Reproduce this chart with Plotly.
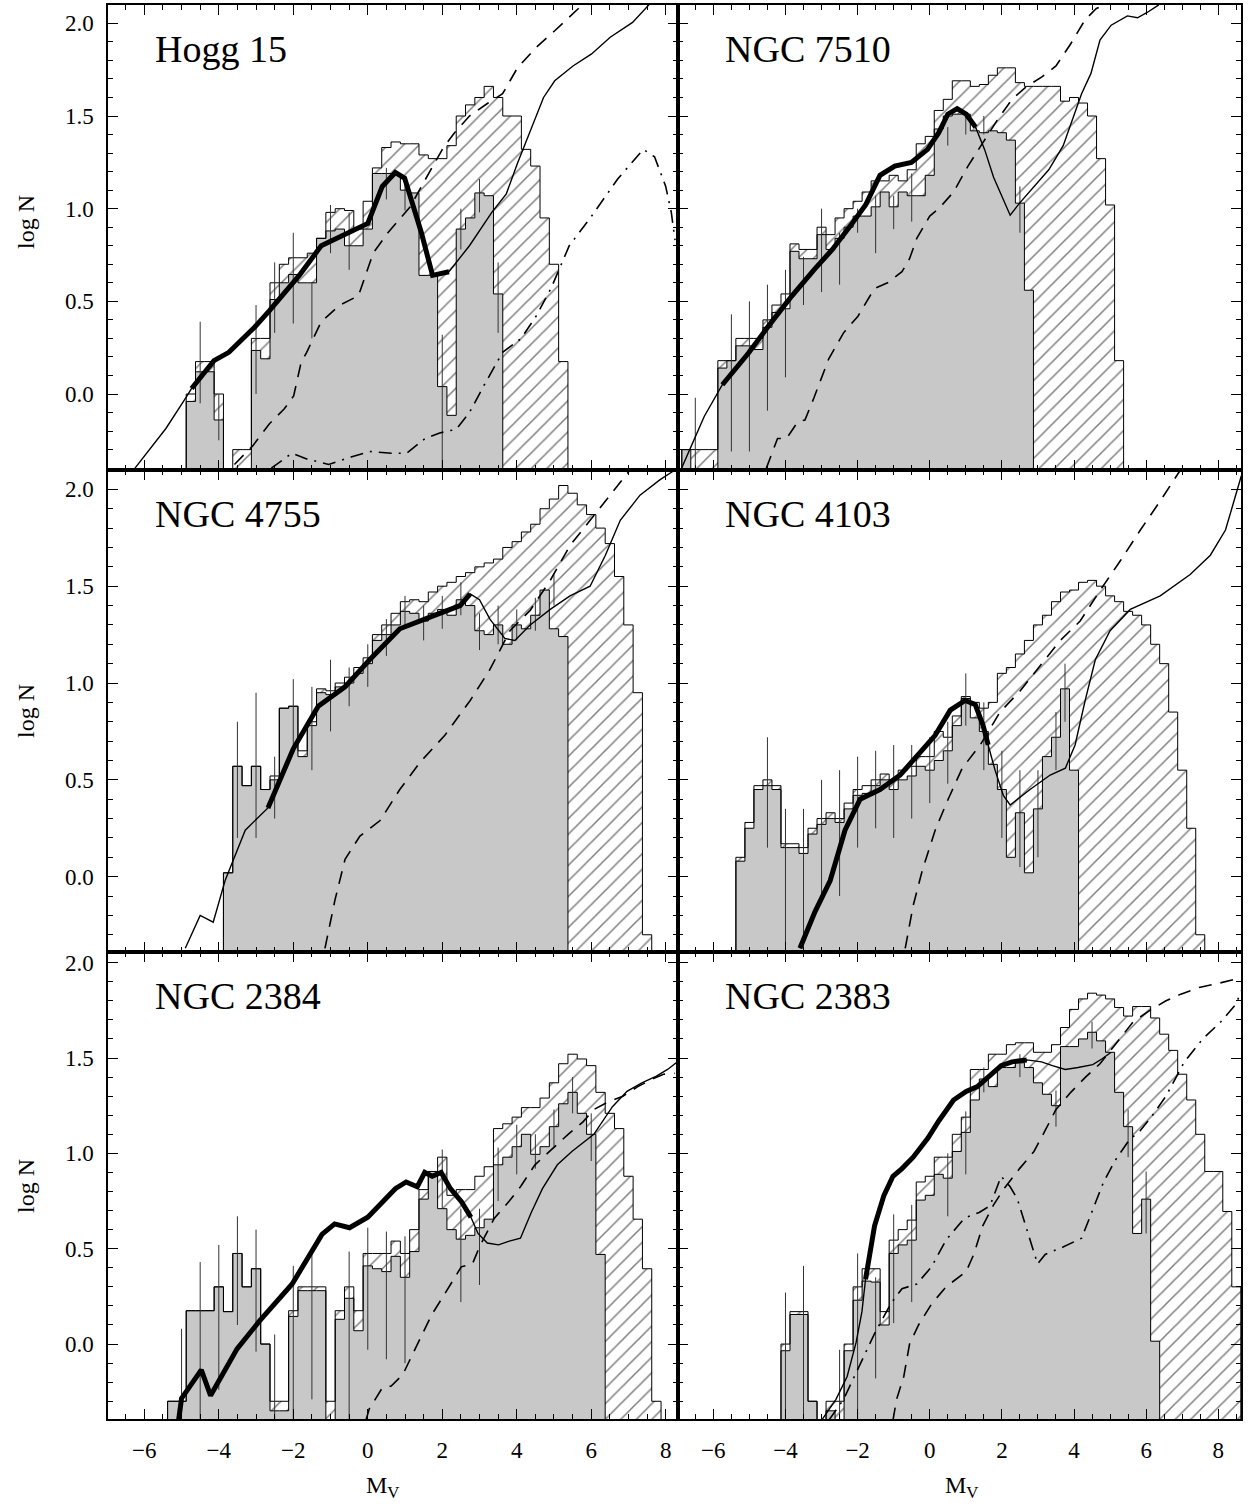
import plotly.graph_objects as go

BIN = 0.25          # histogram bin width in M_V
FLOOR = -1.0        # value used for empty bins (below the plotted range)

# ---------------- Hogg 15 ----------------
H15_TOT_START = -4.75
H15_TOT = [0.0, 0.175, 0.175, 0.0, -1, -0.3, -0.3, 0.30, 0.30, 0.60, 0.70, 0.735, 0.735, 0.76,
           0.84, 0.98, 1.0, 0.99, 0.89, 1.04, 1.22, 1.33, 1.36, 1.35, 1.35, 1.29, 1.27, 1.27, 1.34,
           1.50, 1.56, 1.60, 1.66, 1.60, 1.50, 1.50, 1.32, 1.23, 0.95, 0.70, 0.175]
H15_GRAY_START = -4.75
H15_GRAY = [-0.04, 0.12, 0.12, -0.14, -1, -1, -1, 0.235, 0.19, 0.51, 0.60, 0.645, 0.60, 0.60,
            0.84, 0.88, 0.89, 0.80, 0.80, 0.89, 1.19, 1.19, 1.19, 1.10, 1.085, 0.64, 0.64, 0.04,
            -0.115, 0.89, 0.95, 1.085, 1.07, 0.54]
H15_ERR_X = [-4.5, -4.0, -3.0, -2.5, -2.0, -1.5, -1.0, -0.5, 0.5, 1.0, 2.0, 2.5, 3.0, 3.5]
H15_ERR_HI = [0.39, 0.0, 0.48, 0.71, 0.87, 0.60, 1.02, 0.98, 1.22, 1.14, 0.32, 1.0, 1.16, 0.71]
H15_ERR_LO = [-0.05, -0.25, 0.0, 0.33, 0.38, 0.30, 0.76, 0.67, 1.05, 0.99, -0.45, 0.78, 0.98, 0.33]
H15_MODEL_X = [-6.25, -5.42, -4.87, -4.73, -4.48, -4.13, -3.73, -3.04, -2.64, -1.84, -1.25, -0.70,
               0.0, 0.39, 0.74, 0.99, 1.44, 1.74, 2.18, 2.73, 3.33, 3.72, 4.02, 4.27, 4.52, 4.72,
               5.02, 5.51, 6.01, 6.51, 7.11, 7.55]
H15_MODEL_Y = [-0.40, -0.186, -0.016, 0.03, 0.09, 0.18, 0.225, 0.36, 0.45, 0.64, 0.80, 0.85,
               0.92, 1.12, 1.195, 1.165, 0.87, 0.64, 0.66, 0.80, 0.98, 1.08, 1.245, 1.37, 1.50,
               1.60, 1.69, 1.77, 1.835, 1.925, 2.005, 2.10]
H15_THICK = [-4.75, 2.2]
H15_DASH_X = [-3.58, -3.43, -3.09, -2.64, -2.24, -1.99, -1.79, -1.64, -1.25, -0.75, -0.25, 0.145,
              0.54, 0.84, 1.14, 1.44, 1.74, 2.03, 2.33, 2.73, 3.23, 3.62, 4.02, 4.52, 5.02, 5.71]
H15_DASH_Y = [-0.38, -0.35, -0.28, -0.16, -0.08, -0.01, 0.17, 0.225, 0.39, 0.48, 0.53, 0.76,
              0.87, 0.94, 1.01, 1.12, 1.23, 1.33, 1.41, 1.50, 1.57, 1.62, 1.76, 1.87, 1.96, 2.09]
H15_DOT_X = [-2.59, -2.04, -1.64, -1.05, -0.45, 0.05, 0.64, 1.04, 1.54, 1.93, 2.38, 2.73, 3.13,
             3.62, 4.12, 4.52, 4.92, 5.17, 5.41, 6.01, 6.71, 7.40, 7.70, 8.0, 8.15, 8.25]
H15_DOT_Y = [-0.40, -0.32, -0.35, -0.38, -0.34, -0.31, -0.32, -0.32, -0.24, -0.21, -0.19, -0.10,
             0.05, 0.225, 0.30, 0.42, 0.57, 0.69, 0.80, 0.96, 1.16, 1.32, 1.28, 1.12, 0.98, 0.83]

# ---------------- NGC 7510 ----------------
N7510_TOT_START = -6.75
N7510_TOT = [-0.30, -0.30, -0.30, -0.30, 0.18, 0.18, 0.30, 0.30, 0.30, 0.40, 0.48, 0.54, 0.81,
             0.78, 0.78, 0.90, 0.86, 0.95, 1.00, 1.04, 1.09, 1.15, 1.15, 1.18, 1.15, 1.21, 1.35,
             1.39, 1.53, 1.59, 1.69, 1.69, 1.66, 1.67, 1.72, 1.76, 1.76, 1.68, 1.66, 1.66, 1.66,
             1.66, 1.58, 1.60, 1.57, 1.50, 1.27, 1.02, 0.18]
N7510_GRAY_START = -6.75
N7510_GRAY = [-0.30, -1, -1, -1, 0.14, 0.18, 0.26, 0.26, 0.24, 0.36, 0.44, 0.46, 0.77, 0.73,
              0.73, 0.86, 0.78, 0.84, 0.90, 0.96, 0.96, 1.01, 1.09, 1.01, 1.09, 1.07, 1.07, 1.18,
              1.43, 1.50, 1.51, 1.51, 1.42, 1.41, 1.42, 1.41, 1.37, 1.03, 0.56]
N7510_ERR_X = [-6.5, -5.5, -5.0, -4.5, -4.0, -3.5, -3.0, -2.5, -2.0, -1.5, -1.0, -0.5, 0.5, 1.0, 1.5, 2.5]
N7510_ERR_HI = [-0.02, 0.43, 0.50, 0.59, 0.67, 0.74, 1.0, 0.87, 1.0, 1.07, 1.07, 1.19, 1.44, 1.52, 1.50, 1.12]
N7510_ERR_LO = [-0.45, -0.31, -0.31, -0.09, 0.09, 0.48, 0.55, 0.59, 0.87, 0.76, 0.89, 0.93, 1.34, 1.40, 1.40, 0.87]
N7510_MODEL_X = [-6.88, -6.25, -5.75, -5.03, -4.42, -3.82, -3.21, -2.70, -2.19, -1.78, -1.38,
                 -0.97, -0.51, -0.06, 0.25, 0.50, 0.76, 1.01, 1.27, 1.52, 1.77, 2.03, 2.23, 2.49,
                 2.89, 3.30, 3.70, 3.96, 4.21, 4.47, 4.72, 5.03, 5.48, 5.76, 6.04, 6.35]
N7510_MODEL_Y = [-0.40, -0.12, 0.05, 0.22, 0.38, 0.53, 0.67, 0.78, 0.91, 1.02, 1.18, 1.23, 1.25,
                 1.32, 1.41, 1.51, 1.54, 1.51, 1.44, 1.32, 1.17, 1.05, 0.965, 1.03, 1.12, 1.21,
                 1.34, 1.48, 1.62, 1.73, 1.91, 1.99, 2.04, 2.03, 2.06, 2.10]
N7510_THICK = [-5.8, 1.3]
N7510_DASH_X = [-4.53, -4.37, -4.22, -3.97, -3.66, -3.46, -3.21, -2.80, -2.39, -1.99, -1.53, -1.17,
                -0.77, -0.56, -0.36, 0.0, 0.25, 0.66, 1.06, 1.47, 1.88, 2.28, 2.69, 3.10, 3.50,
                3.91, 4.31, 4.62, 5.07]
N7510_DASH_Y = [-0.40, -0.32, -0.24, -0.24, -0.15, -0.14, -0.02, 0.19, 0.33, 0.42, 0.57, 0.60,
                0.66, 0.73, 0.84, 0.96, 1.0, 1.09, 1.23, 1.355, 1.48, 1.59, 1.66, 1.71, 1.77,
                1.89, 2.02, 2.08, 2.12]

# ---------------- NGC 4755 ----------------
N4755_TOT_START = -3.75
N4755_TOT = [0.02, 0.57, 0.47, 0.57, 0.45, 0.52, 0.87, 0.88, 0.65, 0.80, 0.97, 0.96, 1.0, 1.03,
             1.08, 1.13, 1.25, 1.30, 1.36, 1.42, 1.43, 1.42, 1.47, 1.50, 1.52, 1.55, 1.57, 1.60,
             1.62, 1.64, 1.70, 1.73, 1.78, 1.82, 1.90, 1.95, 2.02, 1.98, 1.92, 1.87, 1.80, 1.72,
             1.55, 1.30, 0.95, -0.30]
N4755_GRAY_START = -3.75
N4755_GRAY = [0.02, 0.57, 0.47, 0.57, 0.45, 0.50, 0.87, 0.88, 0.62, 0.78, 0.95, 0.94, 0.98, 1.0,
              1.05, 1.10, 1.22, 1.25, 1.30, 1.37, 1.36, 1.32, 1.36, 1.38, 1.35, 1.43, 1.40, 1.27,
              1.25, 1.30, 1.20, 1.30, 1.28, 1.35, 1.48, 1.28, 1.24]
N4755_ERR_X = [-3.5, -3.0, -2.5, -2.0, -1.5, -1.0, -0.5, 0.0, 0.5, 1.0, 1.5, 2.0, 2.5, 3.0, 3.5, 4.0, 4.5, 5.0]
N4755_ERR_HI = [0.80, 0.95, 0.62, 1.02, 0.98, 1.12, 1.08, 1.20, 1.33, 1.45, 1.40, 1.45, 1.52, 1.36, 1.40, 1.38, 1.44, 1.56]
N4755_ERR_LO = [0.20, 0.20, 0.30, 0.65, 0.55, 0.75, 0.88, 0.98, 1.14, 1.28, 1.22, 1.28, 1.35, 1.17, 1.20, 1.22, 1.27, 1.40]
N4755_MODEL_X = [-4.9, -4.5, -4.15, -3.83, -3.29, -2.68, -2.0, -1.33, -0.61, 0.05, 0.86, 1.67,
                 2.48, 2.75, 3.0, 3.28, 3.68, 3.95, 4.36, 4.9, 5.43, 5.97, 6.38, 6.78, 7.31,
                 7.85, 8.25]
N4755_MODEL_Y = [-0.37, -0.2, -0.235, -0.02, 0.24, 0.355, 0.66, 0.88, 0.98, 1.12, 1.28, 1.34,
                 1.40, 1.46, 1.43, 1.33, 1.23, 1.22, 1.30, 1.38, 1.45, 1.50, 1.66, 1.84, 1.97,
                 2.05, 2.10]
N4755_THICK = [-2.7, 2.8]
N4755_DASH_X = [-1.15, -0.88, -0.61, -0.21, 0.33, 0.86, 1.4, 2.07, 2.75, 3.28, 3.82, 4.36, 4.9,
                5.43, 5.97, 6.51, 7.04]
N4755_DASH_Y = [-0.37, -0.12, 0.09, 0.21, 0.29, 0.45, 0.59, 0.73, 0.91, 1.07, 1.27, 1.375, 1.53,
                1.71, 1.84, 1.97, 2.10]

# ---------------- NGC 4103 ----------------
N4103_TOT_START = -5.25
N4103_TOT = [0.10, 0.28, 0.47, 0.50, 0.47, 0.17, 0.17, 0.15, 0.25, 0.30, 0.33, 0.30, 0.38, 0.45,
             0.47, 0.50, 0.53, 0.50, 0.55, 0.57, 0.62, 0.62, 0.75, 0.72, 0.83, 0.93, 0.90, 0.87,
             0.90, 1.05, 1.08, 1.15, 1.22, 1.30, 1.35, 1.42, 1.47, 1.48, 1.52, 1.53, 1.50, 1.45,
             1.42, 1.37, 1.35, 1.30, 1.20, 1.10, 0.85, 0.55, 0.25, -0.30]
N4103_GRAY_START = -5.25
N4103_GRAY = [0.08, 0.25, 0.45, 0.47, 0.45, 0.15, 0.15, 0.12, 0.22, 0.27, 0.30, 0.28, 0.35, 0.42,
              0.43, 0.47, 0.50, 0.45, 0.50, 0.52, 0.57, 0.55, 0.60, 0.65, 0.78, 0.92, 0.82, 0.75,
              0.58, 0.45, 0.10, 0.33, 0.02, 0.35, 0.62, 0.72, 0.97, 0.55]
N4103_ERR_X = [-4.5, -4.0, -3.5, -3.0, -2.5, -2.0, -1.5, -1.0, -0.5, 0.0, 0.5, 1.0, 1.5, 2.0, 2.5, 3.0, 3.5, 3.75]
N4103_ERR_HI = [0.72, 0.35, 0.35, 0.50, 0.55, 0.62, 0.65, 0.68, 0.68, 0.72, 0.80, 1.05, 0.90, 0.65, 0.55, 0.55, 0.85, 1.10]
N4103_ERR_LO = [0.15, -0.45, -0.45, -0.10, -0.10, 0.15, 0.25, 0.20, 0.30, 0.38, 0.48, 0.78, 0.55, 0.20, 0.05, 0.10, 0.55, 0.80]
N4103_MODEL_X = [-3.6, -3.18, -2.76, -2.35, -1.93, -1.38, -0.82, -0.27, 0.15, 0.57, 0.98, 1.26,
                 1.48, 1.62, 1.81, 2.04, 2.23, 2.78, 3.34, 3.76, 4.03, 4.31, 4.59, 5.0, 5.56,
                 6.39, 7.22, 7.78, 8.2, 8.64]
N4103_MODEL_Y = [-0.37, -0.18, -0.02, 0.24, 0.40, 0.45, 0.525, 0.64, 0.73, 0.86, 0.91, 0.89,
                 0.78, 0.68, 0.55, 0.42, 0.37, 0.45, 0.525, 0.56, 0.68, 0.91, 1.12, 1.27, 1.38,
                 1.45, 1.56, 1.66, 1.79, 2.07]
N4103_THICK = [-3.6, 1.65]
N4103_DASH_X = [-0.68, -0.46, -0.21, 0.15, 0.51, 0.9, 1.4, 1.95, 2.51, 3.06, 3.62, 4.17, 4.73,
                5.28, 5.84, 6.39, 6.95]
N4103_DASH_Y = [-0.37, -0.15, 0.03, 0.24, 0.40, 0.56, 0.68, 0.85, 0.96, 1.09, 1.22, 1.32, 1.48,
                1.63, 1.79, 1.94, 2.10]

# ---------------- NGC 2384 ----------------
N2384_TOT_START = -5.25
N2384_TOT = [-0.30, -0.30, 0.175, 0.175, 0.175, 0.30, 0.17, 0.475, 0.30, 0.395, 0.0, -0.30,
             -0.30, 0.175, 0.30, 0.30, 0.30, -0.30, 0.175, 0.30, 0.175, 0.475, 0.475, 0.475,
             0.54, 0.475, 0.60, 0.81, 0.905, 0.98, 0.78, 0.81, 0.81, 0.88, 0.93, 1.13, 1.155,
             1.19, 1.24, 1.24, 1.29, 1.37, 1.47, 1.52, 1.495, 1.46, 1.32, 1.21, 1.13, 0.88,
             0.655, 0.395, -0.30]
N2384_GRAY_START = -5.25
N2384_GRAY = [-0.30, -0.30, 0.175, 0.175, 0.175, 0.30, 0.17, 0.475, 0.30, 0.395, 0.0, -0.35,
              -0.35, 0.145, 0.28, 0.28, 0.28, -1, 0.13, 0.24, 0.07, 0.41, 0.395, 0.38, 0.46,
              0.35, 0.485, 0.76, 0.905, 0.71, 0.60, 0.55, 0.57, 0.61, 0.655, 0.94, 0.98, 1.035,
              1.10, 0.995, 1.035, 1.14, 1.26, 1.32, 1.21, 1.10, 0.47]
N2384_ERR_X = [-5.0, -4.5, -4.0, -3.5, -3.0, -2.5, -2.0, -1.5, -0.5, 0.0, 0.5, 1.0, 2.0, 2.5,
               3.0, 3.5, 4.0, 4.5, 5.0, 5.5, 6.0]
N2384_ERR_HI = [0.08, 0.43, 0.52, 0.67, 0.60, 0.05, 0.41, 0.475, 0.485, 0.61, 0.59, 0.565, 1.02,
                0.71, 0.71, 1.03, 1.15, 1.10, 1.23, 1.40, 1.21]
N2384_ERR_LO = [-0.45, -0.45, -0.24, 0.10, -0.04, -0.45, -0.45, -0.29, -0.45, -0.03, -0.08,
                -0.10, 0.71, 0.22, 0.31, 0.75, 0.89, 0.92, 1.03, 1.21, 0.96]
N2384_MODEL_X = [-5.08, -5.0, -4.47, -4.22, -3.51, -2.91, -2.03, -1.53, -1.23, -0.89, -0.49, 0.0,
                 0.35, 0.74, 1.03, 1.33, 1.53, 1.73, 1.97, 2.22, 2.52, 2.77, 2.96, 3.21, 3.51,
                 3.80, 4.10, 4.39, 4.69, 5.09, 5.48, 6.07, 6.57, 6.96, 7.36, 7.75, 8.05, 8.35]
N2384_MODEL_Y = [-0.40, -0.285, -0.135, -0.27, -0.025, 0.12, 0.315, 0.475, 0.575, 0.63, 0.61,
                 0.665, 0.735, 0.815, 0.85, 0.825, 0.90, 0.88, 0.90, 0.815, 0.745, 0.665, 0.58,
                 0.53, 0.52, 0.54, 0.555, 0.69, 0.815, 0.94, 1.01, 1.10, 1.245, 1.325, 1.37,
                 1.405, 1.44, 1.485]
N2384_THICK = [-5.1, 2.8]
N2384_DASH_X = [-0.05, 0.04, 0.39, 0.63, 0.94, 1.33, 1.72, 2.12, 2.51, 2.81, 3.0, 3.4, 3.80, 4.10,
                4.49, 4.88, 5.38, 5.78, 6.07, 6.46, 6.85, 7.25, 7.64, 7.94, 8.24]
N2384_DASH_Y = [-0.40, -0.34, -0.23, -0.22, -0.16, -0.005, 0.155, 0.28, 0.405, 0.42, 0.51, 0.66,
                0.75, 0.825, 0.94, 1.01, 1.10, 1.165, 1.23, 1.27, 1.30, 1.35, 1.39, 1.415, 1.42]

# ---------------- NGC 2383 ----------------
N2383_TOT_START = -4.0
N2383_TOT = [0.0, 0.17, 0.17, -0.30, -1, -0.30, -0.30, 0.0, 0.30, 0.395, 0.395, 0.17, 0.545,
             0.60, 0.65, 0.85, 0.88, 0.98, 0.98, 1.10, 1.19, 1.44, 1.44, 1.52, 1.52, 1.57, 1.58,
             1.58, 1.53, 1.53, 1.57, 1.66, 1.755, 1.81, 1.84, 1.83, 1.81, 1.765, 1.72, 1.77,
             1.77, 1.71, 1.625, 1.54, 1.415, 1.28, 1.10, 0.905, 0.905, 0.695, 0.30]
N2383_GRAY_START = -4.0
N2383_GRAY = [-0.035, 0.155, 0.155, -0.30, -1, -0.35, -1, -0.035, 0.23, 0.33, 0.325, 0.10,
              0.475, 0.52, 0.545, 0.755, 0.78, 0.89, 0.87, 1.01, 1.11, 1.28, 1.39, 1.35, 1.45,
              1.45, 1.475, 1.45, 1.37, 1.31, 1.25, 1.56, 1.56, 1.60, 1.635, 1.59, 1.53, 1.32,
              1.14, 0.58, 0.76, 0.015]
N2383_ERR_X = [-4.0, -3.5, -2.5, -2.0, -1.5, -1.0, -0.5, 0.5, 1.0, 1.5, 2.5, 3.5, 4.5, 5.5, 6.0]
N2383_ERR_HI = [0.27, 0.41, -0.03, 0.475, 0.35, 0.68, 0.73, 1.0, 1.22, 1.45, 1.52, 1.33, 1.69, 1.23, 0.905]
N2383_ERR_LO = [-0.45, -0.45, -0.45, -0.45, -0.18, 0.11, 0.22, 0.67, 0.89, 1.32, 1.40, 1.14, 1.55, 0.98, 0.58]
N2383_MODEL_X = [-3.0, -2.6, -2.29, -2.04, -1.88, -1.78, -1.68, -1.53, -1.27, -1.02, -0.77, -0.46,
                 -0.05, 0.25, 0.66, 1.01, 1.32, 1.67, 1.98, 2.28, 2.69, 3.10, 3.40, 3.76, 4.11,
                 4.52, 4.77, 5.03]
N2383_MODEL_Y = [-0.40, -0.29, -0.17, 0.01, 0.17, 0.34, 0.46, 0.62, 0.78, 0.88, 0.92, 0.98, 1.08,
                 1.17, 1.28, 1.325, 1.35, 1.405, 1.46, 1.48, 1.49, 1.48, 1.46, 1.44, 1.45, 1.465,
                 1.495, 1.53]
N2383_THICK = [-1.8, 2.75]
N2383_DASH_X = [-1.02, -0.92, -0.72, -0.56, -0.31, 0.05, 0.45, 1.01, 1.22, 1.47, 1.77, 2.08, 2.49,
                2.89, 3.20, 3.50, 3.91, 4.32, 4.72, 5.13, 5.64, 6.14, 6.55, 6.96, 7.47, 7.97,
                8.38, 8.73]
N2383_DASH_Y = [-0.40, -0.29, -0.17, 0.0, 0.10, 0.21, 0.30, 0.38, 0.47, 0.62, 0.73, 0.82, 0.92,
                1.01, 1.12, 1.23, 1.32, 1.40, 1.47, 1.57, 1.69, 1.755, 1.80, 1.835, 1.87, 1.89,
                1.91, 1.925]
N2383_DOT_X = [-2.8, -2.39, -1.99, -1.53, -1.07, -0.77, -0.36, 0.05, 0.45, 0.96, 1.37, 1.67, 1.98,
               2.23, 2.43, 2.69, 2.99, 3.20, 3.71, 4.21, 4.52, 4.82, 5.13, 5.53, 5.84, 6.14,
               6.55, 7.06, 7.57, 8.07, 8.48, 8.73]
N2383_DOT_Y = [-0.40, -0.29, -0.13, 0.055, 0.215, 0.29, 0.315, 0.405, 0.545, 0.66, 0.69, 0.725,
               0.88, 0.825, 0.76, 0.60, 0.42, 0.47, 0.51, 0.555, 0.71, 0.85, 0.96, 1.07, 1.12,
               1.19, 1.30, 1.48, 1.60, 1.69, 1.78, 1.89]

PANEL_NAMES = ["Hogg 15", "NGC 7510", "NGC 4755", "NGC 4103", "NGC 2384", "NGC 2383"]

PANELS = [
    dict(tot=(H15_TOT_START, H15_TOT), gray=(H15_GRAY_START, H15_GRAY),
         err=(H15_ERR_X, H15_ERR_LO, H15_ERR_HI), model=(H15_MODEL_X, H15_MODEL_Y),
         thick=H15_THICK, dash=(H15_DASH_X, H15_DASH_Y), dot=(H15_DOT_X, H15_DOT_Y)),
    dict(tot=(N7510_TOT_START, N7510_TOT), gray=(N7510_GRAY_START, N7510_GRAY),
         err=(N7510_ERR_X, N7510_ERR_LO, N7510_ERR_HI), model=(N7510_MODEL_X, N7510_MODEL_Y),
         thick=N7510_THICK, dash=(N7510_DASH_X, N7510_DASH_Y), dot=None),
    dict(tot=(N4755_TOT_START, N4755_TOT), gray=(N4755_GRAY_START, N4755_GRAY),
         err=(N4755_ERR_X, N4755_ERR_LO, N4755_ERR_HI), model=(N4755_MODEL_X, N4755_MODEL_Y),
         thick=N4755_THICK, dash=(N4755_DASH_X, N4755_DASH_Y), dot=None),
    dict(tot=(N4103_TOT_START, N4103_TOT), gray=(N4103_GRAY_START, N4103_GRAY),
         err=(N4103_ERR_X, N4103_ERR_LO, N4103_ERR_HI), model=(N4103_MODEL_X, N4103_MODEL_Y),
         thick=N4103_THICK, dash=(N4103_DASH_X, N4103_DASH_Y), dot=None),
    dict(tot=(N2384_TOT_START, N2384_TOT), gray=(N2384_GRAY_START, N2384_GRAY),
         err=(N2384_ERR_X, N2384_ERR_LO, N2384_ERR_HI), model=(N2384_MODEL_X, N2384_MODEL_Y),
         thick=N2384_THICK, dash=(N2384_DASH_X, N2384_DASH_Y), dot=None),
    dict(tot=(N2383_TOT_START, N2383_TOT), gray=(N2383_GRAY_START, N2383_GRAY),
         err=(N2383_ERR_X, N2383_ERR_LO, N2383_ERR_HI), model=(N2383_MODEL_X, N2383_MODEL_Y),
         thick=N2383_THICK, dash=(N2383_DASH_X, N2383_DASH_Y), dot=(N2383_DOT_X, N2383_DOT_Y)),
]

# ---------------- geometry (pixels of the 1249x1507 page) ----------------
W, H = 1249, 1507
COL_PX = [(108, 678), (678, 1241)]
ROW_PX = [(5, 470), (470, 952), (952, 1419)]
XRANGE = [[-6.975, 8.33], [-6.98, 8.63]]
YRANGE = [[-0.41, 2.099], [-0.389, 2.100], [-0.393, 2.056]]
LOGN_Y = [222, 711, 1186]

FONT = "Liberation Serif"
GRAY_FILL = "#c8c8c8"


def centers(start, vals):
    return [start + BIN * i for i in range(len(vals))]


def step_outline(start, vals):
    cs = centers(start, vals)
    xs = [cs[0] - BIN / 2] + [c - BIN / 2 for c in cs] + [cs[-1] + BIN / 2, cs[-1] + BIN / 2]
    ys = [FLOOR] + list(vals) + [vals[-1], FLOOR]
    return xs, ys


def axis_ids(i):
    k = "" if i == 0 else str(i + 1)
    return "x" + k, "y" + k, "xaxis" + k, "yaxis" + k


fig = go.Figure()
layout_axes = {}
annotations = []

# bars first (hatched totals, then gray observed)
for i, p in enumerate(PANELS):
    xa, ya, _, _ = axis_ids(i)
    ts, tv = p["tot"]
    fig.add_trace(go.Bar(
        x=centers(ts, tv), y=[v - FLOOR for v in tv], base=FLOOR, width=BIN,
        marker=dict(color="white", line=dict(width=0),
                    pattern=dict(shape="/", fgcolor="black", bgcolor="white", size=11, solidity=0.14)),
        xaxis=xa, yaxis=ya, showlegend=False, hoverinfo="skip"))
    gs, gv = p["gray"]
    fig.add_trace(go.Bar(
        x=centers(gs, gv), y=[v - FLOOR for v in gv], base=FLOOR, width=BIN,
        marker=dict(color=GRAY_FILL, line=dict(width=0)),
        xaxis=xa, yaxis=ya, showlegend=False, hoverinfo="skip"))

for i, p in enumerate(PANELS):
    row, col = divmod(i, 2)
    xa, ya, xname, yname = axis_ids(i)
    x0, x1 = COL_PX[col]
    y0, y1 = ROW_PX[row]

    for key in ("tot", "gray"):
        sx, sy = step_outline(*p[key])
        fig.add_trace(go.Scatter(x=sx, y=sy, mode="lines", line=dict(color="black", width=1, shape="hv"),
                                 xaxis=xa, yaxis=ya, showlegend=False, hoverinfo="skip"))
    # error bars
    ex, elo, ehi = p["err"]
    bx, by = [], []
    for xv, lo, hi in zip(ex, elo, ehi):
        bx += [xv, xv, None]
        by += [lo, hi, None]
    fig.add_trace(go.Scatter(x=bx, y=by, mode="lines", line=dict(color="#333333", width=1),
                             xaxis=xa, yaxis=ya, showlegend=False, hoverinfo="skip"))
    # model curves
    mx, my = p["model"]
    fig.add_trace(go.Scatter(x=mx, y=my, mode="lines", line=dict(color="black", width=1.4),
                             xaxis=xa, yaxis=ya, showlegend=False, hoverinfo="skip"))
    lo, hi = p["thick"]
    tx = [a for a, b in zip(mx, my) if lo <= a <= hi]
    ty = [b for a, b in zip(mx, my) if lo <= a <= hi]
    fig.add_trace(go.Scatter(x=tx, y=ty, mode="lines", line=dict(color="black", width=5),
                             xaxis=xa, yaxis=ya, showlegend=False, hoverinfo="skip"))
    dx, dy = p["dash"]
    fig.add_trace(go.Scatter(x=dx, y=dy, mode="lines",
                             line=dict(color="black", width=1.6, dash="13px,9px"),
                             xaxis=xa, yaxis=ya, showlegend=False, hoverinfo="skip"))
    if p["dot"] is not None:
        ox, oy = p["dot"]
        fig.add_trace(go.Scatter(x=ox, y=oy, mode="lines",
                                 line=dict(color="black", width=1.6, dash="13px,7px,2px,7px"),
                                 xaxis=xa, yaxis=ya, showlegend=False, hoverinfo="skip"))

    layout_axes[xname] = dict(
        domain=[x0 / W, x1 / W], range=XRANGE[col], anchor=ya,
        showline=True, linecolor="black", linewidth=1.5, mirror="allticks",
        ticks="inside", ticklen=10, tickwidth=1, tickcolor="black", dtick=2, tick0=0,
        minor=dict(ticks="inside", ticklen=5, tickwidth=1, tickcolor="black", dtick=0.5, tick0=0),
        showgrid=False, zeroline=False, showticklabels=(row == 2),
        tickfont=dict(family=FONT, size=23, color="black"), ticklabelstandoff=10)
    layout_axes[yname] = dict(
        domain=[1 - y1 / H, 1 - y0 / H], range=YRANGE[row], anchor=xa,
        showline=True, linecolor="black", linewidth=1.5, mirror="allticks",
        ticks="inside", ticklen=10, tickwidth=1, tickcolor="black", dtick=0.5, tick0=0,
        minor=dict(ticks="inside", ticklen=5, tickwidth=1, tickcolor="black", dtick=0.1, tick0=0),
        showgrid=False, zeroline=False, showticklabels=(col == 0), tickformat=".1f",
        tickfont=dict(family=FONT, size=23, color="black"), ticklabelstandoff=8)

    annotations.append(dict(
        text=PANEL_NAMES[i], x=(x0 + 45) / W, y=1 - (y0 + 44) / H, xref="paper", yref="paper",
        xanchor="left", yanchor="middle", showarrow=False,
        font=dict(family=FONT, size=38, color="black")))
    if col == 0:
        annotations.append(dict(
            text="log N", x=26 / W, y=1 - LOGN_Y[row] / H, xref="paper", yref="paper",
            xanchor="center", yanchor="middle", textangle=-90, showarrow=False,
            font=dict(family=FONT, size=24, color="black")))
    if row == 2:
        annotations.append(dict(
            text="M<sub>V</sub>", x=(382 if col == 0 else 961) / W, y=1 - 1487 / H,
            xref="paper", yref="paper", xanchor="center", yanchor="middle", showarrow=False,
            font=dict(family=FONT, size=24, color="black")))

fig.update_layout(
    width=W, height=H, margin=dict(l=0, r=0, t=0, b=0),
    paper_bgcolor="white", plot_bgcolor="white",
    barmode="overlay", bargap=0, showlegend=False,
    annotations=annotations, **layout_axes)

fig.write_html("out.html")
